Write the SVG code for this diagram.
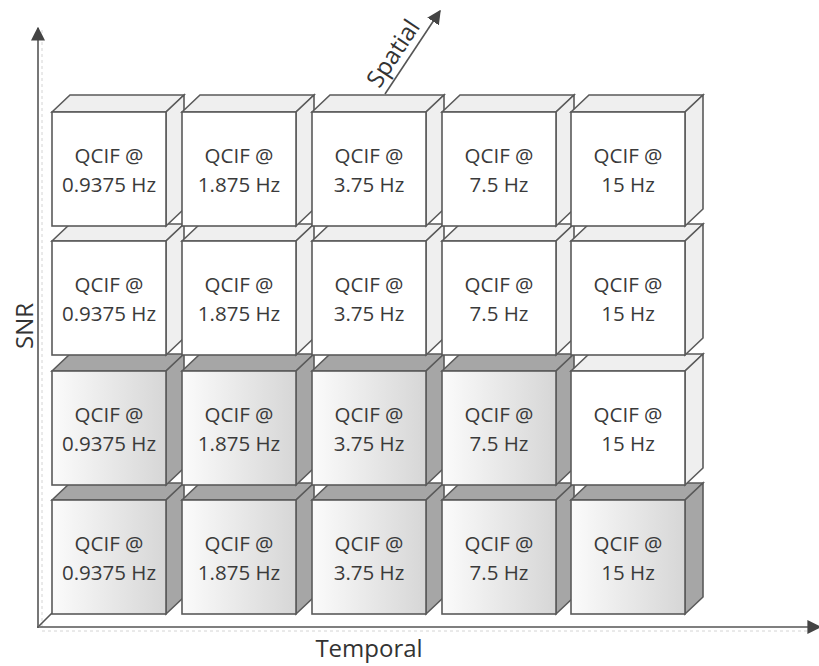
<svg xmlns="http://www.w3.org/2000/svg" width="819" height="666" viewBox="0 0 819 666">
<style>
.cube polygon, .cube rect { stroke:#5a5a5a; stroke-width:1.6; stroke-linejoin:miter; }
.white .side { fill:#efefef; }
.white .front { fill:#ffffff; }
.gray .side { fill:#a6a6a6; }
.gray .front { fill:url(#gf); }
.lbl { font-family:"Open Sans","Liberation Sans",sans-serif; font-size:20.5px; fill:#3a3a3a; text-anchor:middle; }
.axis { font-family:"Open Sans","Liberation Sans",sans-serif; font-size:24px; fill:#333; text-anchor:middle; }
.ax { stroke:#555; stroke-width:1.6; fill:none; }
.shadow { stroke:#d4d4d4; stroke-width:1; stroke-dasharray:3 3; fill:none; }
</style>
<defs>
<linearGradient id="gf" x1="0" y1="0" x2="1" y2="0">
<stop offset="0" stop-color="#fbfbfb"/>
<stop offset="1" stop-color="#d6d6d6"/>
</linearGradient>
<marker id="ahb" viewBox="0 0 10 10" refX="9" refY="5" markerWidth="14" markerHeight="14" markerUnits="userSpaceOnUse" orient="auto">
<path d="M0,0 L10,5 L0,10 Z" fill="#444"/>
</marker>
</defs>

<g id="connectors">
<line class="shadow" x1="42" y1="30" x2="42" y2="630"/>
<line class="shadow" x1="42" y1="631" x2="810" y2="631"/>
<line class="ax" x1="38" y1="628" x2="38" y2="28" marker-end="url(#ahb)"/>
<line class="ax" x1="37" y1="627" x2="820" y2="627" marker-end="url(#ahb)"/>
<line class="ax" x1="39" y1="626" x2="52" y2="613" stroke-width="1.2"/>
<line class="ax" x1="385" y1="94" x2="440" y2="11" marker-end="url(#ahb)" stroke-width="1.4"/>
</g>

<!-- Row 4 -->
<g id="r4c1" class="cube gray" transform="translate(52,500)"><polygon class="side" points="0,0 18,-17 132,-17 114,0"/><polygon class="side" points="114,0 132,-17 132,97 114,114"/><rect class="front" width="114" height="114"/><text class="lbl" x="57" y="51">QCIF @</text><text class="lbl" x="57" y="80">0.9375 Hz</text></g>
<g id="r4c2" class="cube gray" transform="translate(182,500)"><polygon class="side" points="0,0 18,-17 132,-17 114,0"/><polygon class="side" points="114,0 132,-17 132,97 114,114"/><rect class="front" width="114" height="114"/><text class="lbl" x="57" y="51">QCIF @</text><text class="lbl" x="57" y="80">1.875 Hz</text></g>
<g id="r4c3" class="cube gray" transform="translate(312,500)"><polygon class="side" points="0,0 18,-17 132,-17 114,0"/><polygon class="side" points="114,0 132,-17 132,97 114,114"/><rect class="front" width="114" height="114"/><text class="lbl" x="57" y="51">QCIF @</text><text class="lbl" x="57" y="80">3.75 Hz</text></g>
<g id="r4c4" class="cube gray" transform="translate(442,500)"><polygon class="side" points="0,0 18,-17 132,-17 114,0"/><polygon class="side" points="114,0 132,-17 132,97 114,114"/><rect class="front" width="114" height="114"/><text class="lbl" x="57" y="51">QCIF @</text><text class="lbl" x="57" y="80">7.5 Hz</text></g>
<g id="r4c5" class="cube gray" transform="translate(571,500)"><polygon class="side" points="0,0 18,-17 132,-17 114,0"/><polygon class="side" points="114,0 132,-17 132,97 114,114"/><rect class="front" width="114" height="114"/><text class="lbl" x="57" y="51">QCIF @</text><text class="lbl" x="57" y="80">15 Hz</text></g>

<!-- Row 3 -->
<g id="r3c1" class="cube gray" transform="translate(52,371)"><polygon class="side" points="0,0 18,-17 132,-17 114,0"/><polygon class="side" points="114,0 132,-17 132,97 114,114"/><rect class="front" width="114" height="114"/><text class="lbl" x="57" y="51">QCIF @</text><text class="lbl" x="57" y="80">0.9375 Hz</text></g>
<g id="r3c2" class="cube gray" transform="translate(182,371)"><polygon class="side" points="0,0 18,-17 132,-17 114,0"/><polygon class="side" points="114,0 132,-17 132,97 114,114"/><rect class="front" width="114" height="114"/><text class="lbl" x="57" y="51">QCIF @</text><text class="lbl" x="57" y="80">1.875 Hz</text></g>
<g id="r3c3" class="cube gray" transform="translate(312,371)"><polygon class="side" points="0,0 18,-17 132,-17 114,0"/><polygon class="side" points="114,0 132,-17 132,97 114,114"/><rect class="front" width="114" height="114"/><text class="lbl" x="57" y="51">QCIF @</text><text class="lbl" x="57" y="80">3.75 Hz</text></g>
<g id="r3c4" class="cube gray" transform="translate(442,371)"><polygon class="side" points="0,0 18,-17 132,-17 114,0"/><polygon class="side" points="114,0 132,-17 132,97 114,114"/><rect class="front" width="114" height="114"/><text class="lbl" x="57" y="51">QCIF @</text><text class="lbl" x="57" y="80">7.5 Hz</text></g>
<g id="r3c5" class="cube white" transform="translate(571,371)"><polygon class="side" points="0,0 18,-17 132,-17 114,0"/><polygon class="side" points="114,0 132,-17 132,97 114,114"/><rect class="front" width="114" height="114"/><text class="lbl" x="57" y="51">QCIF @</text><text class="lbl" x="57" y="80">15 Hz</text></g>

<!-- Row 2 -->
<g id="r2c1" class="cube white" transform="translate(52,241)"><polygon class="side" points="0,0 18,-17 132,-17 114,0"/><polygon class="side" points="114,0 132,-17 132,97 114,114"/><rect class="front" width="114" height="114"/><text class="lbl" x="57" y="51">QCIF @</text><text class="lbl" x="57" y="80">0.9375 Hz</text></g>
<g id="r2c2" class="cube white" transform="translate(182,241)"><polygon class="side" points="0,0 18,-17 132,-17 114,0"/><polygon class="side" points="114,0 132,-17 132,97 114,114"/><rect class="front" width="114" height="114"/><text class="lbl" x="57" y="51">QCIF @</text><text class="lbl" x="57" y="80">1.875 Hz</text></g>
<g id="r2c3" class="cube white" transform="translate(312,241)"><polygon class="side" points="0,0 18,-17 132,-17 114,0"/><polygon class="side" points="114,0 132,-17 132,97 114,114"/><rect class="front" width="114" height="114"/><text class="lbl" x="57" y="51">QCIF @</text><text class="lbl" x="57" y="80">3.75 Hz</text></g>
<g id="r2c4" class="cube white" transform="translate(442,241)"><polygon class="side" points="0,0 18,-17 132,-17 114,0"/><polygon class="side" points="114,0 132,-17 132,97 114,114"/><rect class="front" width="114" height="114"/><text class="lbl" x="57" y="51">QCIF @</text><text class="lbl" x="57" y="80">7.5 Hz</text></g>
<g id="r2c5" class="cube white" transform="translate(571,241)"><polygon class="side" points="0,0 18,-17 132,-17 114,0"/><polygon class="side" points="114,0 132,-17 132,97 114,114"/><rect class="front" width="114" height="114"/><text class="lbl" x="57" y="51">QCIF @</text><text class="lbl" x="57" y="80">15 Hz</text></g>

<!-- Row 1 -->
<g id="r1c1" class="cube white" transform="translate(52,112)"><polygon class="side" points="0,0 18,-17 132,-17 114,0"/><polygon class="side" points="114,0 132,-17 132,97 114,114"/><rect class="front" width="114" height="114"/><text class="lbl" x="57" y="51">QCIF @</text><text class="lbl" x="57" y="80">0.9375 Hz</text></g>
<g id="r1c2" class="cube white" transform="translate(182,112)"><polygon class="side" points="0,0 18,-17 132,-17 114,0"/><polygon class="side" points="114,0 132,-17 132,97 114,114"/><rect class="front" width="114" height="114"/><text class="lbl" x="57" y="51">QCIF @</text><text class="lbl" x="57" y="80">1.875 Hz</text></g>
<g id="r1c3" class="cube white" transform="translate(312,112)"><polygon class="side" points="0,0 18,-17 132,-17 114,0"/><polygon class="side" points="114,0 132,-17 132,97 114,114"/><rect class="front" width="114" height="114"/><text class="lbl" x="57" y="51">QCIF @</text><text class="lbl" x="57" y="80">3.75 Hz</text></g>
<g id="r1c4" class="cube white" transform="translate(442,112)"><polygon class="side" points="0,0 18,-17 132,-17 114,0"/><polygon class="side" points="114,0 132,-17 132,97 114,114"/><rect class="front" width="114" height="114"/><text class="lbl" x="57" y="51">QCIF @</text><text class="lbl" x="57" y="80">7.5 Hz</text></g>
<g id="r1c5" class="cube white" transform="translate(571,112)"><polygon class="side" points="0,0 18,-17 132,-17 114,0"/><polygon class="side" points="114,0 132,-17 132,97 114,114"/><rect class="front" width="114" height="114"/><text class="lbl" x="57" y="51">QCIF @</text><text class="lbl" x="57" y="80">15 Hz</text></g>

<g id="labels">
<text class="axis" x="369" y="657">Temporal</text>
<text class="axis" transform="translate(33,326) rotate(-90)">SNR</text>
<text class="axis" transform="translate(400,58) rotate(-56.5)">Spatial</text>
</g>
</svg>
